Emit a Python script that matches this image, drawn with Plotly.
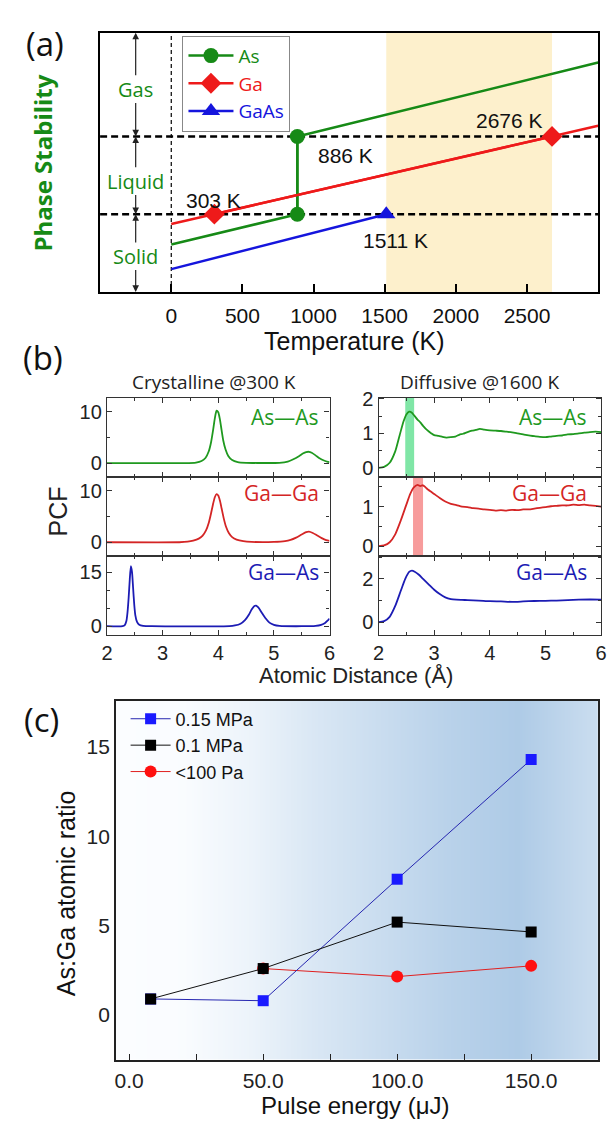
import plotly.graph_objects as go

W, H = 611, 1124
def fx(px): return px / W
def fy(py): return 1 - py / H

# ---------------- Panel (a) data ----------------
AS_X = [0, 886, 886, 3000]
AS_Y = [1.83, 3.0, 6.0, 8.85]
GA_X = [0, 303, 2676, 3000]
GA_Y = [2.62, 3.0, 6.0, 6.41]
GAAS_X = [0, 1511]
GAAS_Y = [0.88, 3.0]
AS_MK_X = [886, 886]; AS_MK_Y = [3.0, 6.0]
GA_MK_X = [303, 2676]; GA_MK_Y = [3.0, 6.0]
GAAS_MK_X = [1511]; GAAS_MK_Y = [3.0]
PHASE_BOUNDS = [3.0, 6.0]
TAN_RANGE = [1511, 2676]
PHASES = ["Gas", "Liquid", "Solid"]
PHASE_Y = [7.82, 4.27, 1.37]
T_LABELS = ["886 K", "2676 K", "303 K", "1511 K"]
T_LABEL_X = [1226, 2376, 296, 1577]
T_LABEL_Y = [5.27, 6.6, 3.51, 1.98]

# ---------------- Panel (b) data ----------------
C_ASAS_X = [2.0, 3.4, 3.6, 3.7, 3.77, 3.83, 3.87, 3.91, 3.94, 3.97, 4.0, 4.03, 4.06, 4.09, 4.13, 4.18, 4.25, 4.35, 4.5, 4.7,
            5.1, 5.25, 5.35, 5.45, 5.52, 5.58, 5.63, 5.68, 5.75, 5.82, 5.9, 5.97, 6.0]
C_ASAS_Y = [0, 0, 0.1, 0.4, 1.0, 2.3, 4.0, 6.6, 8.8, 10.2, 9.9, 8.5, 6.4, 4.4, 2.7, 1.4, 0.6, 0.2, 0.05, 0.02,
            0.05, 0.3, 0.75, 1.35, 1.85, 2.15, 2.2, 2.0, 1.5, 0.95, 0.5, 0.25, 0.2]
C_GAGA_X = [2.0, 3.3, 3.45, 3.55, 3.65, 3.72, 3.78, 3.83, 3.87, 3.91, 3.94, 3.97, 4.0, 4.03, 4.06, 4.1, 4.14, 4.19, 4.25, 4.33,
            4.45, 4.6, 5.0, 5.2, 5.3, 5.4, 5.5, 5.58, 5.63, 5.7, 5.78, 5.86, 5.94, 6.0]
C_GAGA_Y = [0, 0, 0.1, 0.3, 0.7, 1.3, 2.3, 3.8, 5.6, 7.6, 8.8, 9.35, 9.1, 8.1, 6.6, 4.6, 3.0, 1.8, 1.0, 0.5,
            0.2, 0.06, 0.05, 0.2, 0.45, 0.9, 1.5, 1.95, 2.05, 1.8, 1.3, 0.8, 0.4, 0.25]
C_GAAS_X = [2.0, 2.28, 2.32, 2.35, 2.37, 2.39, 2.41, 2.43, 2.45, 2.47, 2.49, 2.51, 2.54, 2.58, 2.65, 2.8, 4.2, 4.3, 4.4,
            4.48, 4.55, 4.6, 4.65, 4.68, 4.72, 4.78, 4.85, 4.92, 5.0, 5.1, 5.5, 5.75, 5.85, 5.92, 5.97, 6.0]
C_GAAS_Y = [0, 0, 0.3, 1.5, 4, 8, 13, 16.6, 15, 10.5, 6, 3, 1.2, 0.4, 0.1, 0, 0, 0.2, 0.7,
            1.7, 3.2, 4.6, 5.6, 5.7, 5.2, 3.8, 2.2, 1.0, 0.4, 0.1, 0, 0.1, 0.4, 0.9, 1.6, 2.1]

D_ASAS_X = [2.0, 2.1, 2.2, 2.3, 2.38, 2.45, 2.5, 2.55, 2.6, 2.65, 2.7, 2.75, 2.8, 2.87, 2.95, 3.0, 3.08, 3.15, 3.22, 3.3,
            3.38, 3.45, 3.52, 3.6, 3.68, 3.75, 3.82, 3.9, 4.0, 4.1, 4.2, 4.3, 4.4, 4.5, 4.6, 4.7, 4.8, 4.9, 5.0, 5.1,
            5.2, 5.3, 5.4, 5.5, 5.6, 5.7, 5.8, 5.9, 6.0]
D_ASAS_Y = [0.0, 0.03, 0.15, 0.48, 0.95, 1.35, 1.55, 1.63, 1.6, 1.5, 1.4, 1.32, 1.22, 1.1, 1.0, 0.95, 0.93, 0.9, 0.88, 0.89,
            0.91, 0.96, 0.99, 1.04, 1.08, 1.1, 1.13, 1.11, 1.09, 1.08, 1.07, 1.05, 1.03, 1.0, 0.97, 0.94, 0.92, 0.9, 0.89, 0.91,
            0.93, 0.94, 0.97, 0.98, 1.0, 1.02, 1.04, 1.05, 1.04]
D_GAGA_X = [2.0, 2.1, 2.2, 2.3, 2.4, 2.5, 2.57, 2.63, 2.7, 2.75, 2.8, 2.85, 2.9, 3.0, 3.1, 3.2, 3.3, 3.4, 3.5, 3.6,
            3.7, 3.8, 3.9, 4.0, 4.1, 4.2, 4.3, 4.4, 4.5, 4.6, 4.7, 4.8, 4.9, 5.0, 5.1, 5.2, 5.3, 5.4, 5.5, 5.6,
            5.7, 5.8, 5.9, 6.0]
D_GAGA_Y = [0, 0.02, 0.1, 0.3, 0.65, 1.05, 1.32, 1.48, 1.55, 1.52, 1.54, 1.48, 1.42, 1.32, 1.22, 1.13, 1.07, 1.04, 1.0, 0.99,
            0.96, 0.95, 0.93, 0.92, 0.9, 0.91, 0.9, 0.92, 0.91, 0.93, 0.93, 0.95, 0.97, 0.99, 1.01, 1.02, 1.03, 1.03, 1.05, 1.04,
            1.05, 1.03, 1.02, 1.0]
D_GAAS_X = [2.0, 2.1, 2.2, 2.3, 2.4, 2.48, 2.55, 2.6, 2.65, 2.72, 2.8, 2.9, 3.0, 3.1, 3.2, 3.3, 3.4, 3.5, 3.6, 3.8,
            4.0, 4.2, 4.4, 4.6, 4.8, 5.0, 5.2, 5.4, 5.6, 5.8, 6.0]
D_GAAS_Y = [0, 0.05, 0.25, 0.75, 1.45, 2.0, 2.32, 2.38, 2.33, 2.2, 2.0, 1.75, 1.5, 1.3, 1.15, 1.07, 1.04, 1.03, 1.02, 1.0,
            0.97, 0.96, 0.94, 0.96, 0.98, 0.99, 1.0, 1.02, 1.04, 1.05, 1.04]
PAIR_LABELS = ["As—As", "Ga—Ga", "Ga—As"]
GREEN_BAND = [2.48, 2.64]
RED_BAND = [2.62, 2.80]

# ---------------- Panel (c) data ----------------
PULSE = [8, 50, 100, 150]
R015 = [0.9, 0.8, 7.6, 14.3]
R01 = [0.9, 2.6, 5.2, 4.65]
PULSE_LOW = [50, 100, 150]
R100 = [2.6, 2.15, 2.75]
BG_X = [-5, 20, 45, 70, 95, 120, 145, 175]
BG_LEVEL = [0.0, 0.02, 0.18, 0.42, 0.62, 0.82, 0.95, 0.6]

GREEN, RED, BLUE = "#168a16", "#ee1a1a", "#1515dd"
BG, BR, BB = "#1f991f", "#d42525", "#1c1cb4"
SANS = "Liberation Sans, Arial"
CAL = "Open Sans"

fig = go.Figure()

# ---- (a) traces ----
fig.add_trace(go.Scatter(x=AS_X, y=AS_Y, mode="lines", line=dict(color=GREEN, width=2.5), showlegend=False, xaxis="x", yaxis="y"))
fig.add_trace(go.Scatter(x=GA_X, y=GA_Y, mode="lines", line=dict(color=RED, width=2.5), showlegend=False, xaxis="x", yaxis="y"))
fig.add_trace(go.Scatter(x=GAAS_X, y=GAAS_Y, mode="lines", line=dict(color=BLUE, width=2.5), showlegend=False, xaxis="x", yaxis="y"))
fig.add_trace(go.Scatter(x=AS_MK_X, y=AS_MK_Y, mode="lines+markers", name='<span style="color:%s">As</span>' % GREEN,
                         line=dict(color=GREEN, width=2.5), marker=dict(symbol="circle", size=15, color=GREEN), xaxis="x", yaxis="y", legend="legend"))
fig.add_trace(go.Scatter(x=GA_MK_X, y=GA_MK_Y, mode="lines+markers", name='<span style="color:%s">Ga</span>' % RED,
                         line=dict(color=RED, width=2.5), marker=dict(symbol="diamond", size=16, color=RED), xaxis="x", yaxis="y", legend="legend"))
fig.add_trace(go.Scatter(x=GAAS_MK_X, y=GAAS_MK_Y, mode="lines+markers", name='<span style="color:%s">GaAs</span>' % BLUE,
                         line=dict(color=BLUE, width=2.5), marker=dict(symbol="triangle-up", size=16, color=BLUE), xaxis="x", yaxis="y", legend="legend"))

# ---- (b) traces ----
curves = [(C_ASAS_X, C_ASAS_Y, BG, 2), (C_GAGA_X, C_GAGA_Y, BR, 3), (C_GAAS_X, C_GAAS_Y, BB, 4),
          (D_ASAS_X, D_ASAS_Y, BG, 5), (D_GAGA_X, D_GAGA_Y, BR, 6), (D_GAAS_X, D_GAAS_Y, BB, 7)]
for xs, ys, col, k in curves:
    fig.add_trace(go.Scatter(x=xs, y=ys, mode="lines", line=dict(color=col, width=1.8, shape="spline", smoothing=0.6),
                             showlegend=False, xaxis="x%d" % k, yaxis="y%d" % k))

# ---- (c) traces ----
fig.add_trace(go.Heatmap(x=BG_X, y=[-2.5, 17.6], z=[BG_LEVEL, BG_LEVEL], zsmooth="best", showscale=False,
                         colorscale=[[0, "#fbfdff"], [1, "#aac8e5"]], zmin=0, zmax=1, hoverinfo="skip",
                         xaxis="x8", yaxis="y8"))
fig.add_trace(go.Scatter(x=PULSE_LOW, y=R100, mode="lines+markers", name="&lt;100 Pa", legendrank=3,
                         line=dict(color="#e02020", width=1), marker=dict(symbol="circle", size=12, color="#ff1010"),
                         xaxis="x8", yaxis="y8", legend="legend2"))
fig.add_trace(go.Scatter(x=PULSE, y=R015, mode="lines+markers", name="0.15 MPa", legendrank=1,
                         line=dict(color="#2626b0", width=1), marker=dict(symbol="square", size=11, color="#1a1aff"),
                         xaxis="x8", yaxis="y8", legend="legend2"))
fig.add_trace(go.Scatter(x=PULSE, y=R01, mode="lines+markers", name="0.1 MPa", legendrank=2,
                         line=dict(color="#111111", width=1), marker=dict(symbol="square", size=11, color="#000000"),
                         xaxis="x8", yaxis="y8", legend="legend2"))

shapes = []
shapes.append(dict(type="rect", xref="x", yref="y domain", x0=TAN_RANGE[0], x1=TAN_RANGE[1], y0=0, y1=1,
                   fillcolor="#fdf0cc", line=dict(width=0), layer="below"))
for yb in PHASE_BOUNDS:
    shapes.append(dict(type="line", xref="x domain", yref="y", x0=0, x1=1, y0=yb, y1=yb,
                       line=dict(color="black", width=2.5, dash="7px,4px"), layer="below"))
shapes.append(dict(type="line", xref="x", yref="y domain", x0=0, x1=0, y0=0, y1=1,
                   line=dict(color="black", width=1.2, dash="4px,3px"), layer="below"))
shapes.append(dict(type="rect", xref="x5", yref="y5 domain", x0=GREEN_BAND[0], x1=GREEN_BAND[1], y0=0, y1=1,
                   fillcolor="#80e6a6", line=dict(width=0), layer="below"))
shapes.append(dict(type="rect", xref="x6", yref="y6 domain", x0=RED_BAND[0], x1=RED_BAND[1], y0=0, y1=1,
                   fillcolor="#f79c9c", line=dict(width=0), layer="below"))

ann = []
def txt(px, py, t, size, color, family, angle=0, xanchor="center"):
    ann.append(dict(xref="paper", yref="paper", x=fx(px), y=fy(py), text=t, showarrow=False, textangle=angle,
                    xanchor=xanchor, yanchor="middle", font=dict(family=family, size=size, color=color)))

arrow_segs = [(8.3, 10), (7.35, 6.0), (4.75, 6.0), (3.8, 3.0), (1.85, 3.0), (0.9, 0.0)]
for tail, head in arrow_segs:
    ann.append(dict(xref="x", yref="y", axref="x", ayref="y", x=-250, y=head, ax=-250, ay=tail, text="",
                    showarrow=True, arrowhead=2, arrowsize=1.1, arrowwidth=1.2, arrowcolor="#222"))
for t, yy in zip(PHASES, PHASE_Y):
    ann.append(dict(xref="x", yref="y", x=-250, y=yy, text=t, showarrow=False, xanchor="center", yanchor="middle",
                    font=dict(family=CAL, size=20, color=GREEN)))
for t, xx, yy in zip(T_LABELS, T_LABEL_X, T_LABEL_Y):
    ann.append(dict(xref="x", yref="y", x=xx, y=yy, text=t, showarrow=False, xanchor="center", yanchor="middle",
                    font=dict(family=SANS, size=21, color="#111")))

txt(40, 34, "(a)", 33, "#111", CAL)
txt(38, 351, "(b)", 33, "#111", CAL)
txt(36, 717, "(c)", 33, "#111", CAL)
txt(37, 155, "<b>Phase Stability</b>", 24, GREEN, CAL, angle=-90)
txt(355, 335, "Temperature (K)", 25, "#111", SANS)
txt(212, 376, "Crystalline @300 K", 19, "#222", CAL)
txt(483, 376, "Diffusive @1600 K", 19, "#222", CAL)
txt(53, 507, "PCF", 25, "#222", SANS, angle=-90)
txt(357, 673, "Atomic Distance (Å)", 22, "#222", SANS)
lab_y = [411, 488, 568]
for lab, yy, col in zip(PAIR_LABELS, lab_y, [BG, BR, BB]):
    txt(321, yy, lab, 21, col, CAL, xanchor="right")
    txt(595, yy, lab, 21, col, CAL, xanchor="right")
txt(62, 893, "As:Ga atomic ratio", 25, "#111", SANS, angle=-90)
txt(357, 1107, "Pulse energy (μJ)", 24, "#111", SANS)

layout = dict(width=W, height=H, margin=dict(l=0, r=0, t=0, b=0), paper_bgcolor="white", plot_bgcolor="white",
              showlegend=True, hovermode=False, shapes=shapes, annotations=ann)

layout["xaxis"] = dict(domain=[fx(96), fx(604)], range=[-500, 3000], anchor="y", showline=True, linecolor="black", linewidth=2,
                       mirror=True, ticks="inside", ticklen=8, tickwidth=1.5, tickcolor="black", tickvals=[0, 500, 1000, 1500, 2000, 2500],
                       tickfont=dict(family=SANS, size=21, color="#111"), showgrid=False, zeroline=False, ticklabelstandoff=4)
layout["yaxis"] = dict(domain=[fy(285), fy(23)], range=[0, 10], anchor="x", showline=True, linecolor="black", linewidth=2,
                       mirror=True, ticks="", showticklabels=False, showgrid=False, zeroline=False)

rows = [(392, 472), (472, 552), (552, 632)]
cols = [(103, 330), (380, 607)]
yranges = [[-2.7, 12.7], [-2.7, 12.7], [-2.5, 19.4], [-0.26, 2.03], [-0.25, 1.75], [-0.6, 3.05]]
ydt = [(10, 5), (10, 5), (15, 5), (1, 0.5), (1, 0.5), (2, 1)]
k = 2
for ci, (cl, cr) in enumerate(cols):
    for ri, (rt, rb) in enumerate(rows):
        idx = ci * 3 + ri
        layout["xaxis%d" % k] = dict(domain=[fx(cl), fx(cr)], range=[2, 6], anchor="y%d" % k, showline=True,
                                     linecolor="#333", linewidth=1, mirror="ticks", ticks="inside", ticklen=5,
                                     tickcolor="#333", dtick=1, tick0=0, showticklabels=(ri == 2),
                                     minor=dict(ticks="inside", ticklen=3, dtick=0.5, tickcolor="#333"),
                                     tickfont=dict(family=SANS, size=20, color="#222"), showgrid=False, zeroline=False)
        layout["yaxis%d" % k] = dict(domain=[fy(rb), fy(rt)], range=yranges[idx], anchor="x%d" % k, showline=True,
                                     linecolor="#333", linewidth=1.3, mirror="ticks", ticks="inside", ticklen=5,
                                     tickcolor="#333", dtick=ydt[idx][0], tick0=0,
                                     minor=dict(ticks="inside", ticklen=3, dtick=ydt[idx][1], tickcolor="#333"),
                                     tickfont=dict(family=SANS, size=20, color="#222"), showgrid=False, zeroline=False)
        k += 1

layout["xaxis8"] = dict(domain=[fx(112), fx(604)], range=[-5, 175], anchor="y8", showline=True, linecolor="#222", linewidth=1.5,
                        mirror=True, ticks="inside", ticklen=6, tickcolor="#222", tickvals=[0, 50, 100, 150], tickformat=".1f",
                        minor=dict(ticks="inside", ticklen=6, tickvals=[25, 75, 125], tickcolor="#222"),
                        tickfont=dict(family=SANS, size=21, color="#222"), showgrid=False, zeroline=False, ticklabelstandoff=1)
layout["yaxis8"] = dict(domain=[fy(1061), fy(698)], range=[-2.5, 17.6], anchor="x8", showline=True, linecolor="#222", linewidth=1.5,
                        mirror=True, ticks="", tickvals=[0, 5, 10, 15], tickfont=dict(family=SANS, size=21, color="#222"),
                        showgrid=False, zeroline=False)

layout["legend"] = dict(x=fx(180), y=fy(26), xanchor="left", yanchor="top", bgcolor="white", bordercolor="#888", borderwidth=1,
                        font=dict(family=CAL, size=19), itemwidth=45, tracegroupgap=0)
layout["legend2"] = dict(x=fx(122), y=fy(698), xanchor="left", yanchor="top", bgcolor="rgba(0,0,0,0)", borderwidth=0,
                         font=dict(family=SANS, size=18, color="#111"), itemwidth=40, tracegroupgap=0)

fig.update_layout(**layout)
fig.write_html("out.html", config={"displayModeBar": False},
               post_script="document.body.style.margin='0';document.body.style.overflow='hidden';")
